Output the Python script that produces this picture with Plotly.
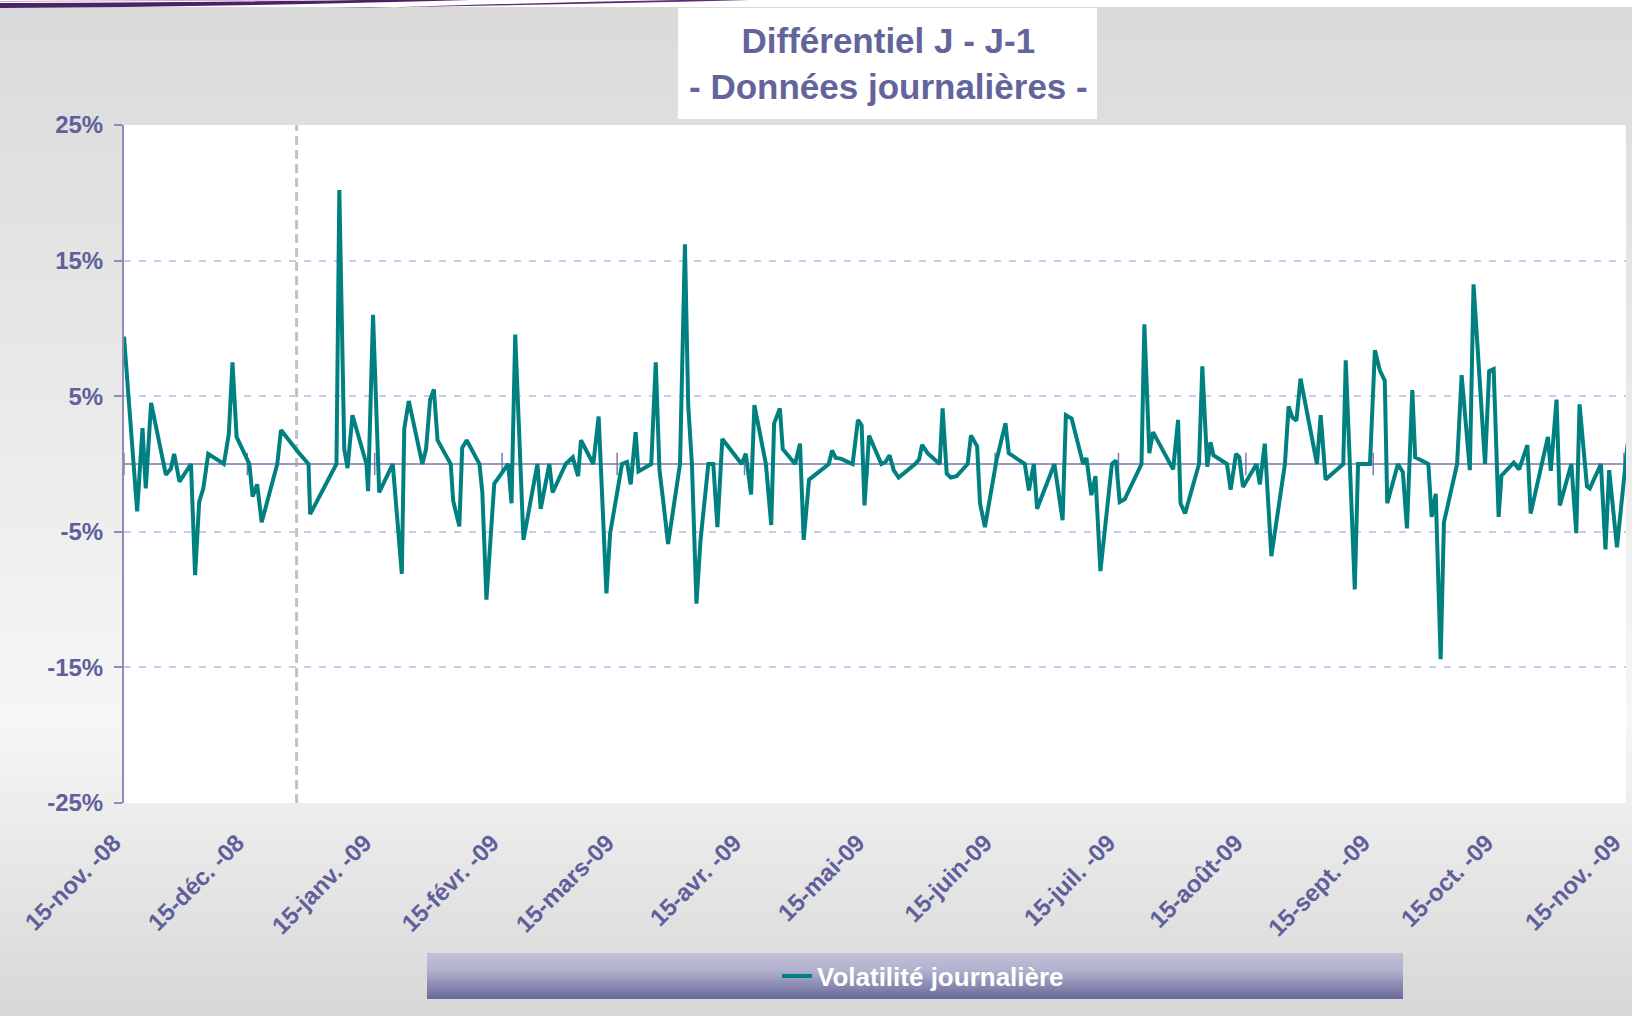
import pandas as pd
import plotly.graph_objects as go

# ---------------- données ----------------
debut = pd.Timestamp("2008-11-15")

# jours écoulés depuis le 15-nov.-08 (lecture du graphique)
jours = [0.0, 3.2, 4.5, 5.3, 6.6, 10.2, 11.4, 12.2, 13.5, 16.3, 17.3, 18.3, 19.3, 20.5, 24.3,
         25.5, 26.4, 27.4, 30.5, 31.3, 32.4, 33.5, 37.3, 38.2, 42.6, 44.9, 45.3, 51.7, 52.4, 53.6,
         54.4, 55.6, 59.0, 59.4, 60.6,
         62.1, 65.4, 67.6, 68.2, 69.3, 72.6, 73.5, 74.5, 75.4, 76.3, 79.5, 80.1, 81.6, 82.3, 83.4,
         86.5, 87.2, 88.2, 89.1, 90.1, 93.5, 94.3, 95.2, 97.2, 100.6, 101.4, 103.5, 104.3, 107.5,
         109.2, 110.5, 111.2, 114.2, 115.5, 117.4, 118.3, 121.2, 122.4, 123.3, 124.5, 125.2,
         128.3, 129.4, 130.3, 131.2, 132.4, 135.3, 136.5, 137.3, 138.2, 139.3, 140.3, 142.2, 143.4,
         144.4, 145.6, 150.3, 151.3, 152.6, 153.4, 156.2, 157.5, 158.2, 159.6, 160.3, 163.3, 164.5,
         165.4, 166.7, 171.5, 172.3, 173.2, 174.4, 177.3, 178.6, 179.5, 180.2, 181.3, 184.3, 185.3,
         186.3, 187.3, 188.5,
         192.5, 193.5, 194.2, 195.7, 198.5, 199.2, 200.2, 201.2, 202.6, 205.3, 206.1, 207.6, 208.3,
         209.5, 212.3, 214.5, 215.3, 219.2, 220.2, 221.4, 222.2, 226.4, 228.4, 229.2, 230.6, 233.4,
         234.2, 235.4, 236.4, 237.6, 240.4, 241.4, 242.3, 243.5, 247.6, 248.3, 249.5, 250.4,
         252.1, 255.3, 256.5, 257.1, 258.2, 261.6, 262.4, 263.6, 264.4, 265.1, 268.4, 269.3, 270.6,
         271.4, 272.3, 275.6, 276.4, 277.6, 279.2, 282.5, 283.4, 284.3, 285.3, 286.3, 290.3, 291.2,
         292.4, 296.7, 297.3, 299.5, 300.3, 303.2, 304.4, 305.6, 306.8, 307.4, 310.0, 311.2, 312.2,
         313.5, 314.2,
         317.4, 318.2, 319.2, 320.4, 321.2, 324.4, 325.5, 327.5, 328.4, 331.2, 332.2, 333.3, 334.5,
         335.2,
         338.2, 339.5, 341.5, 342.3, 346.5, 347.2, 348.6, 349.4, 352.2, 353.4, 354.2, 356.0, 356.7,
         359.4, 360.5, 361.4, 363.3, 365.9]

# volatilité journalière (différentiel J - J-1, en %)
volatilite = [9.4, -3.5, 2.65, -1.8, 4.5, -0.8, -0.35, 0.75, -1.3, 0, -8.2, -2.8, -1.8, 0.75, 0,
              2.2, 7.5, 2.0, 0, -2.4, -1.5, -4.3, 0, 2.5, 0.8, 0, -3.7, 0, 20.2, 1.1,
              -0.3, 3.6, 0, -2.0, 11.0,
              -2.1, 0, -8.1, 2.6, 4.65, 0, 1.1, 4.75, 5.5, 1.75, 0, -2.7, -4.6, 1.2, 1.75,
              0, -2.1, -10.0, -6.2, -1.45, 0, -2.9, 9.55, -5.6, 0, -3.3, 0, -2.1, 0,
              0.5, -0.9, 1.75, 0, 3.5, -9.55, -5.1, 0, 0.15, -1.5, 2.35, -0.55,
              0, 7.5, -0.45, -2.7, -5.9, 0, 16.2, 4.3, 0, -10.3, -5.6, 0, 0,
              -4.65, 1.85, 0, 0.75, -2.25, 4.35, 0, -4.5, 3.0, 4.1, 1.1, 0, 1.5,
              -5.6, -1.15, 0, 1.0, 0.45, 0.4, 0, 3.25, 2.85, -3.05, 2.1, 0, 0.15,
              0.65, -0.45, -1.0,
              0, 0.35, 1.4, 0.75, 0, 4.1, -0.7, -1.0, -0.9, 0, 2.1, 1.3, -2.9,
              -4.65, 0.25, 3.0, 0.8, 0, -1.95, 0, -3.3, 0, -4.15, 3.6, 3.35, 0,
              0.45, -2.3, -0.9, -7.9, 0, 0.25, -2.8, -2.6, 0, 10.3, 0.8, 2.35,
              1.4, -0.4, 3.25, -2.9, -3.65, 0, 7.2, -0.2, 1.6, 0.65, 0, -1.9, 0.75,
              0.5, -1.7, 0, -1.5, 1.5, -6.8, 0, 4.25, 3.45, 3.2, 6.3, 0, 3.6,
              -1.15, 0, 7.65, -9.25, 0, 0, 8.4, 6.9, 6.15, -2.9, 0, -0.6, -4.75,
              5.45, 0.5,
              0, -3.9, -2.2, -14.4, -4.3, 0, 6.55, -0.45, 13.25, 0, 6.85, 7.0, -3.9,
              -0.85,
              0.1, -0.4, 1.4, -3.65, 2.0, -0.5, 4.75, -3.05, 0, -5.1, 4.4, -1.65, -1.8,
              0, -6.3, -0.45, -6.15, 1.5]

assert len(jours) == len(volatilite)

mois_ticks = ["2008-11-15", "2008-12-15", "2009-01-15", "2009-02-15", "2009-03-15",
              "2009-04-15", "2009-05-15", "2009-06-15", "2009-07-15", "2009-08-15",
              "2009-09-15", "2009-10-15", "2009-11-15"]
labels_ticks = ["15-nov. -08", "15-déc. -08", "15-janv. -09", "15-févr. -09", "15-mars-09",
                "15-avr. -09", "15-mai-09", "15-juin-09", "15-juil. -09", "15-août-09",
                "15-sept. -09", "15-oct. -09", "15-nov. -09"]
y_ticks = [-25, -15, -5, 5, 15, 25]
y_labels = ["-25%", "-15%", "-5%", "5%", "15%", "25%"]
date_rupture = "2008-12-27"

titre = "Différentiel J - J-1<br>- Données journalières -"
nom_serie = "Volatilité journalière"

# ---------------- mise en page ----------------
W, H = 1632, 1016
L, R, T, B = 124, 6, 125, 213
PW = W - L - R
PH = H - T - B

def fx(px):
    return (px - L) / PW

def fy(py):
    return (H - B - py) / PH

def lerp(c1, c2, t):
    return tuple(round(a + (b - a) * t) for a, b in zip(c1, c2))

def grad(stops, y):
    for (y1, c1), (y2, c2) in zip(stops, stops[1:]):
        if y1 <= y <= y2:
            return lerp(c1, c2, (y - y1) / (y2 - y1))
    return stops[-1][1]

FONT = "Liberation Sans, Arial, sans-serif"
VIOLET = "#5f5f9b"
TEAL = "#008080"

dates = debut + pd.to_timedelta(jours, unit="D")
fin = debut + pd.Timedelta(days=365.5)

shapes = []
# fond dégradé gris
bg_stops = [(7, (218, 218, 218)), (720, (246, 246, 246)), (1016, (215, 215, 215))]
step = 6
y = 7
while y < H:
    c = grad(bg_stops, y + step / 2)
    shapes.append(dict(type="rect", xref="paper", yref="paper", layer="below",
                       x0=fx(0), x1=fx(W), y0=fy(min(y + step + 0.5, H)), y1=fy(y),
                       fillcolor="rgb(%d,%d,%d)" % c, line=dict(width=0)))
    y += step
# zone du graphique
shapes.append(dict(type="rect", xref="paper", yref="paper", layer="below",
                   x0=0, x1=1, y0=0, y1=1, fillcolor="white", line=dict(width=0)))
# cadre du titre
shapes.append(dict(type="rect", xref="paper", yref="paper", layer="below",
                   x0=fx(678), x1=fx(1097), y0=fy(119), y1=fy(8),
                   fillcolor="white", line=dict(width=0)))
# bandeau de la légende (dégradé)
lg_stops = [(953, (192, 192, 216)), (970, (178, 178, 206)), (999, (104, 104, 154))]
y = 953
while y < 999:
    c = grad(lg_stops, y + 1)
    shapes.append(dict(type="rect", xref="paper", yref="paper", layer="below",
                       x0=fx(427), x1=fx(1403), y0=fy(min(y + 2.5, 999)), y1=fy(y),
                       fillcolor="rgb(%d,%d,%d)" % c, line=dict(width=0)))
    y += 2

# volutes violettes en haut
def P(x, y):
    return "%.5f,%.5f" % (fx(x), fy(y))

shapes.append(dict(type="path", xref="paper", yref="paper", layer="above",
                   path="M %s Q %s %s L %s Q %s %s Z" % (P(0, 8), P(220, 7), P(470, 0),
                                                         P(360, 0), P(150, 3), P(0, 3)),
                   fillcolor="#4c2266", line=dict(width=0)))
shapes.append(dict(type="path", xref="paper", yref="paper", layer="above",
                   path="M %s Q %s %s L %s Q %s %s Z" % (P(330, 8), P(560, 5), P(750, 0),
                                                         P(680, 0), P(520, 3), P(370, 8)),
                   fillcolor="#5a2c74", line=dict(width=0)))
shapes.append(dict(type="path", xref="paper", yref="paper", layer="above",
                   path="M %s Q %s %s" % (P(0, 1.5), P(150, 0.5), P(300, 0)),
                   line=dict(color="#c9a9c9", width=1)))

# ligne verticale pointillée
shapes.append(dict(type="line", xref="x", yref="y", layer="below",
                   x0=date_rupture, x1=date_rupture, y0=-25, y1=25,
                   line=dict(color="#c2c2c2", width=3, dash="9px,5px")))

fig = go.Figure()

# graduations mensuelles sur l'axe zéro
fig.add_trace(go.Scatter(
    x=mois_ticks, y=[0] * len(mois_ticks), mode="markers",
    marker=dict(symbol="line-ns", size=16, line=dict(width=1.5, color="#7b79ad")),
    showlegend=False, hoverinfo="skip", cliponaxis=False))

fig.add_trace(go.Scatter(
    x=dates, y=volatilite, mode="lines", name=nom_serie,
    line=dict(color=TEAL, width=4)))

fig.update_layout(
    width=W, height=H, autosize=False,
    margin=dict(l=L, r=R, t=T, b=B, pad=0),
    paper_bgcolor="white", plot_bgcolor="white",
    font=dict(family=FONT, color=VIOLET),
    shapes=shapes,
    showlegend=True,
    legend=dict(x=fx(777), y=fy(976), xanchor="left", yanchor="middle",
                bgcolor="rgba(0,0,0,0)", borderwidth=0, orientation="h",
                font=dict(family=FONT, size=26, color="white", weight="bold")),
    annotations=[dict(text=titre, xref="paper", yref="paper", x=fx(888), y=fy(64),
                      xanchor="center", yanchor="middle", showarrow=False,
                      font=dict(family=FONT, size=35, color="#64649c", weight="bold"))],
    xaxis=dict(type="date", range=[debut, fin], tickvals=mois_ticks, ticktext=labels_ticks,
               tickangle=-45, tickfont=dict(family=FONT, size=24, color=VIOLET, weight="bold"),
               showgrid=False, showline=False, zeroline=False, ticks="",
               ticklabelstandoff=20, ticklabelshift=-10, ticklabeloverflow="allow",
               automargin=False, fixedrange=True),
    yaxis=dict(range=[-25, 25], tickvals=y_ticks, ticktext=y_labels,
               tickfont=dict(family=FONT, size=24, color=VIOLET, weight="bold"),
               showgrid=True, gridcolor="#c9c9f3", gridwidth=1.5, griddash="7px,8px",
               zeroline=True, zerolinecolor="#9a98c0", zerolinewidth=2,
               showline=True, linecolor="#8f8db8", linewidth=2,
               ticks="outside", ticklen=8, tickwidth=1.5, tickcolor="#8f8db8",
               ticklabelstandoff=6, ticklabeloverflow="allow", automargin=False,
               fixedrange=True),
)

fig.write_html("out.html", config={"displayModeBar": False},
               post_script="document.body.style.margin='0';document.body.style.overflow='hidden';")
